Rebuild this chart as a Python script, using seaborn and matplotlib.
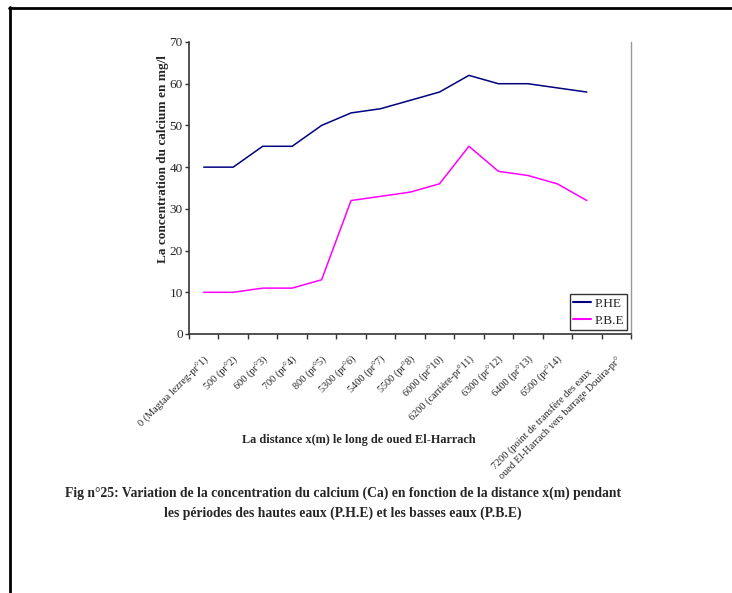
import matplotlib
matplotlib.use("Agg")
import matplotlib.pyplot as plt
from matplotlib.lines import Line2D
from matplotlib.transforms import ScaledTranslation
import numpy as np
import pandas as pd
import seaborn as sns

categories = [
    "0 (Magtaa lezreg-pr°1)", "500 (pr°2)", "600 (pr°3)", "700 (pr°4)", "800 (pr°5)",
    "5300 (pr°6)", "5400 (pr°7)", "5500 (pr°8)", "6000 (pr°10)", "6200 (carrière-pr°11)",
    "6300 (pr°12)", "6400 (pr°13)", "6500 (pr°14)", "7200 (point de transfère des eaux",
    "oued El-Harrach vers barrage Douira-pr°",
]
phe = [40, 40, 45, 45, 50, 53, 54, 56, 58, 62, 60, 60, 59, 58, np.nan]
pbe = [10, 10, 11, 11, 13, 32, 33, 34, 36, 45, 39, 38, 36, 32, np.nan]
series_names = ["P.HE", "P.B.E"]
colors = ["#000080", "#FF00FF"]

sns.set_theme(style="white")
plt.rcParams["font.family"] = ["Liberation Serif", "DejaVu Serif"]

pos = np.arange(len(categories))
df = pd.DataFrame({
    "pos": np.concatenate([pos, pos]),
    "val": phe + pbe,
    "serie": [series_names[0]] * len(pos) + [series_names[1]] * len(pos),
}).dropna()

fig = plt.figure(figsize=(7.32, 5.93), dpi=100)
ax = fig.add_axes([189 / 732, 1 - 334 / 593, 442 / 732, 292 / 593])

sns.lineplot(data=df, x="pos", y="val", hue="serie", palette=colors,
             hue_order=series_names, linewidth=1.1, ax=ax, legend=False)

ax.set_xlim(-0.5, len(categories) - 0.5)
ax.set_ylim(0, 70)
ax.set_yticks(np.arange(0, 71, 10))
ax.set_yticklabels([str(v) for v in range(0, 71, 10)], fontsize=9.5)
ax.set_xticks(pos)
ax.set_xticklabels(categories, rotation=45, ha="right", rotation_mode="anchor", fontsize=7.4)
ax.set_xticks(np.arange(-0.5, len(categories), 1.0), minor=True)
ax.tick_params(axis="x", which="major", length=0, pad=15)
ax.tick_params(axis="x", which="minor", length=3.5, width=1, color="#333333", direction="out", bottom=True)
ax.tick_params(axis="y", length=3, width=1, color="#333333", direction="out", left=True, pad=1.5)
ax.set_xlabel("")
ax.set_ylabel("")

# the long wrapped label sits a little lower in the original
lbl = ax.get_xticklabels()[13]
lbl.set_transform(lbl.get_transform() + ScaledTranslation(0, -12 / 100, fig.dpi_scale_trans))

for s in ["left", "bottom"]:
    ax.spines[s].set_color("#333333")
    ax.spines[s].set_linewidth(1.2)
ax.spines["top"].set_visible(False)
ax.spines["right"].set_color("#999999")
ax.spines["right"].set_linewidth(1.0)

handles = [Line2D([], [], color=c, lw=1.5) for c in colors]
leg = ax.legend(handles, series_names, loc="lower right", bbox_to_anchor=(0.997, 0.005),
                fontsize=9.5, frameon=True, fancybox=False, handlelength=1.4,
                borderpad=0.25, labelspacing=0.35, handletextpad=0.2, borderaxespad=0.2)
leg.get_frame().set_edgecolor("black")
leg.get_frame().set_linewidth(1.0)

fig.text(163 / 732, 1 - 159 / 593, "La concentration du calcium en mg/l", rotation=90,
         ha="center", va="center", fontsize=9.5, fontweight="bold")
fig.text(359 / 732, 1 - 440 / 593, "La distance x(m) le long de oued El-Harrach",
         ha="center", va="center", fontsize=8.8, fontweight="bold")
fig.text(343 / 732, 1 - 493 / 593,
         "Fig n°25: Variation de la concentration du calcium (Ca) en fonction de la distance x(m) pendant",
         ha="center", va="center", fontsize=9.8, fontweight="bold")
fig.text(343 / 732, 1 - 513 / 593,
         "les périodes des hautes eaux (P.H.E) et les basses eaux (P.B.E)",
         ha="center", va="center", fontsize=9.8, fontweight="bold")

# outer frame (top and left edges)
fig.add_artist(Line2D([9 / 732, 1.0], [1 - 7.5 / 593, 1 - 7.5 / 593], color="black", lw=2, transform=fig.transFigure))
fig.add_artist(Line2D([9.5 / 732, 9.5 / 732], [0, 1 - 7 / 593], color="black", lw=2, transform=fig.transFigure))

fig.savefig("out.png", dpi=100)
